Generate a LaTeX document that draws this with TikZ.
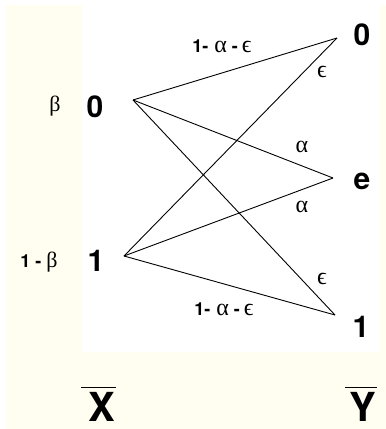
\RequirePackage{fix-cm}
\documentclass[tikz,border=0pt]{standalone}
\usepackage{fontspec}
\setmainfont{TeX Gyre Heros}
\newfontfamily\grk{Liberation Serif}
\usetikzlibrary{positioning}
\definecolor{cream}{RGB}{255,254,240}
\newcommand{\galpha}{{\grk\mdseries\fontsize{24}{26}\selectfont α}}
\newcommand{\gbeta}{{\grk\mdseries\fontsize{22}{24}\selectfont β}}
\newcommand{\geps}{{\grk\mdseries\fontsize{24}{26}\selectfont ϵ}}

\begin{document}
\begin{tikzpicture}[x=1pt, y=-1pt,
  sym/.style={font=\fontsize{30}{32}\selectfont\bfseries, inner sep=0pt},
  var/.style={font=\fontsize{40}{42}\selectfont\bfseries, inner sep=0pt},
  prob/.style={font=\fontsize{18}{20}\selectfont\bfseries, inner sep=0pt},
  chan/.style={line width=0.9pt, black},
  bar/.style={line width=1.3pt, black}]

\useasboundingbox (0,0) rectangle (386,429);

% Background
\fill[cream] (5,5) rectangle (386,429);
\fill[white] (82,0) rectangle (380,352);

% Input and output letters
\node[sym] (x0) at (95,107) {0};
\node[sym] (x1) at (96,261) {1};
\node[sym] (y0) at (362,35) {0};
\node[sym] (ye) at (362,181) {e};
\node[sym] (y1) at (361,327) {1};

% Priors
\node[prob] (pb)  at (55,106) {\gbeta};
\node[prob] (pnb) at (39,262) {1\hspace{5pt}-\hspace{5pt}\gbeta};

% Line ends
\coordinate (s0) at (133,100);
\coordinate (s1) at (124,256);
\coordinate (t0) at (337,38);
\coordinate (te) at (333,178);
\coordinate (t1) at (335,315);

% Channel
\draw[chan] (s0) -- (t0);
\draw[chan] (s0) -- (te);
\draw[chan] (s0) -- (t1);
\draw[chan] (s1) -- (t0);
\draw[chan] (s1) -- (te);
\draw[chan] (s1) -- (t1);

% Transition probabilities
\node[prob] (p00) at (222,46)  {1-\hspace{6pt}\galpha\hspace{5pt}-\hspace{4pt}\geps};
\node[prob] (p10) at (322,72)  {\geps};
\node[prob] (p0e) at (302,147) {\galpha};
\node[prob] (p1e) at (302,207) {\galpha};
\node[prob] (p01) at (322,279) {\geps};
\node[prob] (p11) at (224,309) {1-\hspace{6pt}\galpha\hspace{5pt}-\hspace{4pt}\geps};

% Random variables
\node[var] (vx) at (102,407) {X};
\node[var] (vy) at (363,407) {Y};
\draw[bar] ([xshift=-7pt,yshift=5pt]vx.north west) -- ([yshift=5pt]vx.north east);
\draw[bar] ([xshift=-4pt,yshift=5pt]vy.north west) -- ([yshift=5pt]vy.north east);

\end{tikzpicture}
\end{document}
